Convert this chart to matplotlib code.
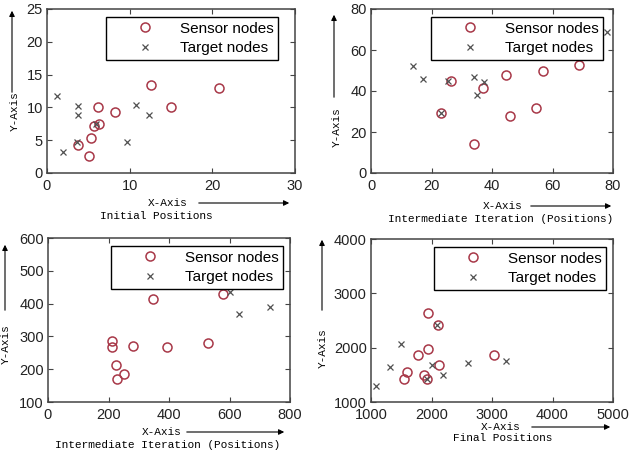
import matplotlib
matplotlib.use('Agg')
import matplotlib.pyplot as plt

# panel 1 - initial positions
p1_sensor_x = [12.6, 20.8, 6.2, 8.2, 15.0, 5.7, 6.3, 5.3, 3.8, 5.1]
p1_sensor_y = [13.4, 13.0, 10.0, 9.3, 10.0, 7.1, 7.5, 5.4, 4.3, 2.6]
p1_target_x = [1.2, 3.8, 3.8, 1.9, 3.6, 5.9, 10.8, 12.3, 9.7]
p1_target_y = [11.8, 10.2, 8.9, 3.2, 4.8, 7.5, 10.3, 8.9, 4.7]

# panel 2 - intermediate iteration
p2_sensor_x = [26.3, 23.2, 34.2, 37.0, 44.7, 46.1, 54.4, 56.8, 68.8]
p2_sensor_y = [44.7, 29.3, 14.3, 41.5, 48.0, 28.0, 31.7, 49.6, 52.8]
p2_target_x = [13.8, 17.3, 25.4, 23.2, 34.0, 35.1, 37.2, 78.0]
p2_target_y = [52.0, 45.9, 44.7, 29.3, 46.8, 37.9, 44.4, 69.0]

# panel 3 - intermediate iteration
p3_sensor_x = [348, 580, 211, 210, 281, 392, 530, 224, 252, 228]
p3_sensor_y = [415, 430, 286, 268, 272, 268, 279, 214, 184, 171]
p3_target_x = [601, 631, 734]
p3_target_y = [436, 367, 391]

# panel 4 - final positions
p4_sensor_x = [1950, 2100, 1940, 1770, 1590, 1545, 1876, 1920, 2121, 3030]
p4_sensor_y = [2640, 2410, 1980, 1860, 1553, 1418, 1504, 1430, 1676, 1860]
p4_target_x = [1083, 1320, 1497, 2000, 2186, 2600, 3229, 2086, 1920]
p4_target_y = [1289, 1645, 2076, 1676, 1504, 1717, 1750, 2426, 1418]

W, H = 632, 451

def px(x, y):
    return (x / W, 1 - y / H)

fig = plt.figure(figsize=(W / 100, H / 100), dpi=100)
fig.patch.set_facecolor('white')

sans = 'Liberation Sans'
mono = 'Liberation Mono'

panels = [
    # pixel boxes (left, top, right, bottom), data, limits, ticks, text spots
    dict(box=(47, 9, 295, 173), sx=p1_sensor_x, sy=p1_sensor_y, tx=p1_target_x, ty=p1_target_y,
         xlim=(0, 30), ylim=(0, 25), xt=range(0, 31, 10), yt=range(0, 26, 5),
         leg=(103, 17, 278, 64),
         xlab=(168, 203), arr=(196, 292, 203), sub=(156, 216, 'Initial Positions'),
         ylab=(15, 111), yarr=(12, 95, 8)),
    dict(box=(371, 9, 613, 173), sx=p2_sensor_x, sy=p2_sensor_y, tx=p2_target_x, ty=p2_target_y,
         xlim=(0, 80), ylim=(0, 80), xt=range(0, 81, 20), yt=range(0, 81, 20),
         leg=(426, 17, 603, 64),
         xlab=(503, 206), arr=(528, 614, 206), sub=(501, 219, 'Intermediate Iteration (Positions)'),
         ylab=(337, 127), yarr=(334, 100, 12)),
    dict(box=(48, 238, 290, 402), sx=p3_sensor_x, sy=p3_sensor_y, tx=p3_target_x, ty=p3_target_y,
         xlim=(0, 800), ylim=(100, 600), xt=range(0, 801, 200), yt=range(100, 601, 100),
         leg=(103, 246, 283, 293),
         xlab=(162, 432), arr=(184, 287, 432), sub=(168, 445, 'Intermediate Iteration (Positions)'),
         ylab=(6, 344), yarr=(5, 313, 242)),
    dict(box=(371, 239, 613, 402), sx=p4_sensor_x, sy=p4_sensor_y, tx=p4_target_x, ty=p4_target_y,
         xlim=(1000, 5000), ylim=(1000, 4000), xt=range(1000, 5001, 1000), yt=range(1000, 4001, 1000),
         leg=(425, 247, 606, 294),
         xlab=(501, 427), arr=(529, 613, 427), sub=(503, 438, 'Final Positions'),
         ylab=(323, 348), yarr=(322, 313, 237)),
]

for p in panels:
    l, t, r, b = p['box']
    ax = fig.add_axes([l / W, 1 - b / H, (r - l) / W, (b - t) / H])
    ax.plot(p['sx'], p['sy'], 'o', mfc='none', mec='#a83848', mew=1.1, ms=6.5,
            label='Sensor nodes', clip_on=False)
    ax.plot(p['tx'], p['ty'], 'x', color='#505050', mew=0.9, ms=4.5,
            label='Target nodes', clip_on=False)
    ax.set_xlim(*p['xlim'])
    ax.set_ylim(*p['ylim'])
    ax.set_xticks(list(p['xt']))
    ax.set_yticks(list(p['yt']))
    ax.tick_params(direction='in', length=3.5, width=0.8, color='#444444',
                   top=True, right=True, labelsize=10.5, labelcolor='#222222')
    ax.tick_params(axis='x', pad=4)
    ax.tick_params(axis='y', pad=3)
    for lab in ax.get_xticklabels() + ax.get_yticklabels():
        lab.set_family(sans)
    for s in ax.spines.values():
        s.set_color('#444444')
        s.set_linewidth(1.1)

    # legend placed in axes fraction from its pixel box
    ll, lt, lr, lb = p['leg']
    ax_w, ax_h = r - l, b - t
    anchor = ((lr - l) / ax_w, (b - lt) / ax_h)
    leg = ax.legend(loc='upper right', bbox_to_anchor=anchor, borderaxespad=0,
                    prop={'family': sans, 'size': 11}, fancybox=False,
                    edgecolor='black', framealpha=1, borderpad=0.3,
                    handlelength=4.5, handletextpad=0.0, labelspacing=0.35)
    leg.get_frame().set_linewidth(1.0)
    leg.set_zorder(5)

    # axis text and arrows
    fig.text(*px(*p['xlab']), 'X-Axis', family=mono, size=8, ha='center', va='center')
    x0, x1, ya = p['arr']
    fig.add_artist(matplotlib.patches.FancyArrowPatch(
        px(x0, ya), px(x1, ya), transform=fig.transFigure,
        arrowstyle='-|>', mutation_scale=8, lw=0.8, color='black'))
    sx, sy, stext = p['sub']
    fig.text(*px(sx, sy), stext, family=mono, size=8, ha='center', va='center')

    fig.text(*px(*p['ylab']), 'Y-Axis', family=mono, size=8, ha='center', va='center',
             rotation=90)
    xa, y0, y1 = p['yarr']
    fig.add_artist(matplotlib.patches.FancyArrowPatch(
        px(xa, y0), px(xa, y1), transform=fig.transFigure,
        arrowstyle='-|>', mutation_scale=8, lw=0.8, color='black'))

fig.savefig('out.png', dpi=100)
